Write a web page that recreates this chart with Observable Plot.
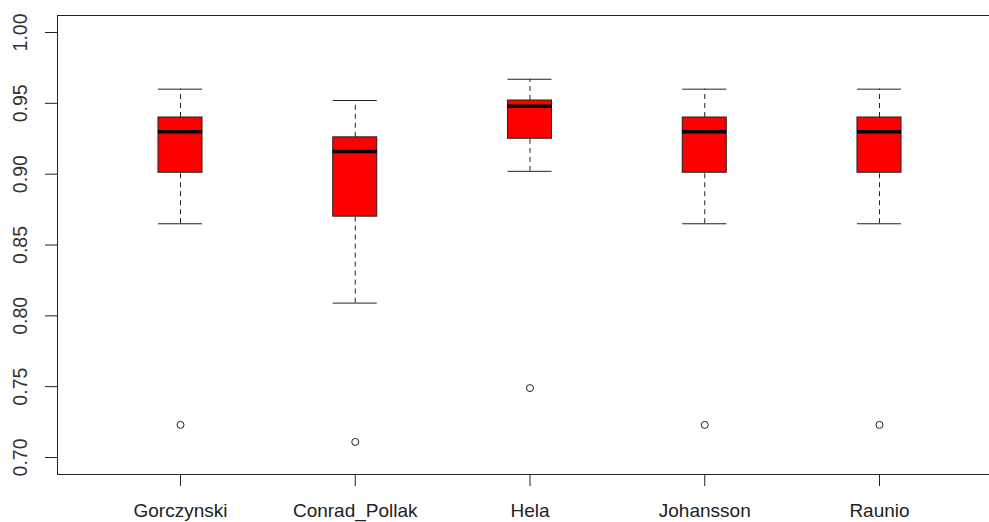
<!DOCTYPE html>
<html>
<head>
<meta charset="utf-8">
<script src="https://cdn.jsdelivr.net/npm/d3@7"></script>
<script src="https://cdn.jsdelivr.net/npm/@observablehq/plot@0.6"></script>
<style>
  html, body { margin: 0; padding: 0; background: #fff; }
  #chart svg { display: block; }
</style>
</head>
<body>
<div id="chart"></div>
<script>
// Data (box-plot summary per group)
const categories   = ["Gorczynski", "Conrad_Pollak", "Hela", "Johansson", "Raunio"];
const lowerWhisker = [0.865, 0.809, 0.902, 0.865, 0.865];
const q1           = [0.901, 0.870, 0.925, 0.901, 0.901];
const median       = [0.930, 0.916, 0.948, 0.930, 0.930];
const q3           = [0.940, 0.926, 0.952, 0.940, 0.940];
const upperWhisker = [0.960, 0.952, 0.967, 0.960, 0.960];
const outliers     = [0.723, 0.711, 0.749, 0.723, 0.723];
const yTicks       = [0.70, 0.75, 0.80, 0.85, 0.90, 0.95, 1.00];

const half = 0.126; // half box width in group units
const rows = categories.map((name, i) => ({
  name, pos: i + 1,
  lo: lowerWhisker[i], q1: q1[i], med: median[i], q3: q3[i], hi: upperWhisker[i],
  out: outliers[i]
}));

const font = "Liberation Sans, Arial, sans-serif";

const chart = Plot.plot({
  width: 989,
  height: 522,
  marginLeft: 57,
  marginRight: 0,
  marginTop: 15,
  marginBottom: 48,
  style: { fontFamily: font, fontSize: "19px", color: "#000", background: "#fff" },
  x: { type: "linear", domain: [0.2961, 5.6295] },
  y: { domain: [0.688, 1.012] },
  marks: [
    // whiskers (dashed)
    Plot.ruleX(rows, { x: "pos", y1: "q3", y2: "hi", stroke: "#222", strokeDasharray: "5,4" }),
    Plot.ruleX(rows, { x: "pos", y1: "lo", y2: "q1", stroke: "#222", strokeDasharray: "5,4" }),
    // staples
    Plot.ruleY(rows, { y: "hi", x1: d => d.pos - half, x2: d => d.pos + half, stroke: "#222" }),
    Plot.ruleY(rows, { y: "lo", x1: d => d.pos - half, x2: d => d.pos + half, stroke: "#222" }),
    // boxes
    Plot.rect(rows, { x1: d => d.pos - half, x2: d => d.pos + half, y1: "q1", y2: "q3", fill: "#ff0000", stroke: "#222", strokeWidth: 1 }),
    // medians
    Plot.ruleY(rows, { y: "med", x1: d => d.pos - half, x2: d => d.pos + half, stroke: "#000", strokeWidth: 3.5 }),
    // outliers
    Plot.dot(rows, { x: "pos", y: "out", r: 3.5, fill: "#fff", stroke: "#222", strokeWidth: 1 }),
    // axes
    Plot.axisY({ ticks: yTicks, tickFormat: d3.format(".2f"), tickSize: 12, tickRotate: -90, tickPadding: 19, stroke: "#222", fill: "#333", fontSize: 19.5 }),
    Plot.axisX({ ticks: [1, 2, 3, 4, 5], tickFormat: d => categories[d - 1], tickSize: 12, tickPadding: 17, stroke: "#222", fill: "#222", fontSize: 19, label: null }),
    // plot box: left, top, bottom (right side lies outside the picture)
    Plot.frame({ anchor: "left", stroke: "#222" }),
    Plot.frame({ anchor: "top", stroke: "#222" }),
    Plot.frame({ anchor: "bottom", stroke: "#222" })
  ]
});
document.getElementById("chart").appendChild(chart);
</script>
</body>
</html>
